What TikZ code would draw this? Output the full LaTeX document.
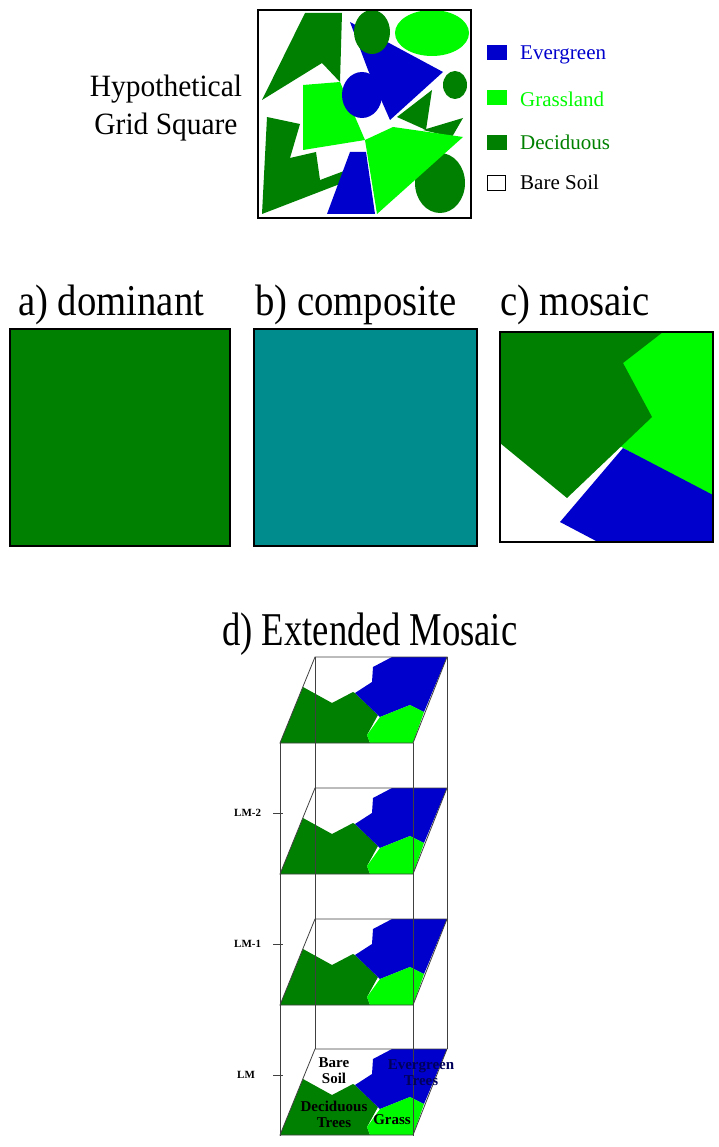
\documentclass[tikz,border=0pt]{standalone}
\usepackage{graphicx}
\usepackage{fontspec}
\setmainfont{Liberation Serif}
\usetikzlibrary{positioning}
\definecolor{decid}{RGB}{0,128,0}
\definecolor{grass}{RGB}{0,250,0}
\definecolor{everg}{RGB}{0,0,205}
\definecolor{compo}{RGB}{0,140,140}
\definecolor{evtext}{RGB}{0,0,90}

\begin{document}
\begin{tikzpicture}[
    x=1pt, y=-1pt,
    frame/.style={draw=black, line width=1.6pt},
    edge/.style={draw=black!75, line width=0.8pt},
    key/.style={minimum width=20pt, minimum height=15pt, inner sep=0pt, anchor=north west},
    keytext/.style={anchor=base west, inner sep=0pt, font=\fontsize{21}{24}\selectfont},
    head/.style={anchor=base west, inner sep=0pt, font=\fontsize{44}{50}\selectfont},
    lmlabel/.style={anchor=west, inner sep=0pt, font=\bfseries\fontsize{11}{12}\selectfont},
    patchtext/.style={align=center, inner sep=0pt, font=\bfseries\fontsize{15}{16}\selectfont}
  ]
  \useasboundingbox (0,0) rectangle (719,1147);

  % hypothetical grid square
  \node[anchor=base, inner sep=0pt, font=\fontsize{31}{36}\selectfont] (hypo) at (166,97) {\scalebox{0.95}[1]{Hypothetical}};
  \node[anchor=base, inner sep=0pt, font=\fontsize{31}{36}\selectfont] (gridsq) at (166,135) {\scalebox{0.95}[1]{Grid Square}};
  \begin{scope}
    \clip (258,10) rectangle (471,218);
    \fill[decid] (305,13) -- (342,13) -- (340,82) -- (322,63) -- (262,100) -- cycle;
    \fill[decid] (397,117) -- (432,90) -- (426,130) -- cycle;
    \fill[decid] (423,130) -- (463,118) -- (452,137) -- cycle;
    \fill[everg] (350,22) -- (443,72) -- (390,120) -- (368,70) -- cycle;
    \fill[decid] (372,32) ellipse [x radius=18, y radius=22];
    \fill[grass] (432,33) ellipse [x radius=37, y radius=23];
    \fill[decid] (455,85) ellipse [x radius=12, y radius=14];
    \fill[grass] (303,85) -- (340,82) -- (365,140) -- (303,150) -- cycle;
    \fill[everg] (362,95) ellipse [x radius=20, y radius=23];
    \fill[decid] (267,117) -- (300,124) -- (290,158) -- (316,152) -- (320,180) -- (352,168) -- (345,182) -- (262,214) -- cycle;
    \fill[everg] (350,152) -- (366,152) -- (375,214) -- (327,214) -- cycle;
    \fill[decid] (440,183) ellipse [x radius=25, y radius=30];
    \fill[grass] (365,140) -- (393,127) -- (463,137) -- (377,214) -- cycle;
  \end{scope}
  \draw[frame] (258,10) rectangle (471,218);

  % legend
  \node[key, fill=everg] (kev) at (487,45) {};
  \node[key, fill=grass] (kgr) at (487,90) {};
  \node[key, fill=decid] (kde) at (487,135) {};
  \node[key, draw=black, line width=0.8pt, minimum width=18pt] (kbs) at (487,175) {};
  \node[keytext, text=everg] (tev) at (520,60) {Evergreen};
  \node[keytext, text=grass] (tgr) at (520,107) {Grassland};
  \node[keytext, text=decid] (tde) at (520,150) {Deciduous};
  \node[keytext] (tbs) at (520,190) {Bare Soil};

  % a) b) c)
  \node[head] (dom) at (18,315) {\scalebox{0.88}[1]{a) dominant}};
  \node[head] (comp) at (255,315) {\scalebox{0.88}[1]{b) composite}};
  \node[head] (mos) at (500,315) {\scalebox{0.88}[1]{c) mosaic}};
  \draw[frame, fill=decid] (10,329) rectangle (230,546);
  \draw[frame, fill=compo] (254,329) rectangle (477,546);
  \begin{scope}
    \clip (500,332) rectangle (713,542);
    \fill[grass] (600,332) -- (713,332) -- (713,500) -- (620,446) -- (645,415) -- (600,370) -- cycle;
    \fill[decid] (500,332) -- (663,332) -- (623,363) -- (652,417) -- (567,498) -- (500,443) -- cycle;
    \fill[everg] (623,448) -- (713,495) -- (713,542) -- (598,542) -- (560,522) -- cycle;
  \end{scope}
  \draw[frame] (500,332) rectangle (713,542);

  % d) extended mosaic
  \node[head, font=\fontsize{47}{50}\selectfont] (ext) at (222,645) {\scalebox{0.78}[1]{d) Extended Mosaic}};
  \foreach \b in {657,788,919,1049}{
    \fill[white] (315,\b) -- (447,\b) -- (413,\b+86) -- (280,\b+86) -- cycle;
    \fill[decid] (303,\b+30) -- (332,\b+46) -- (353,\b+35) -- (355,\b+36) -- (378,\b+58) -- (367,\b+78) -- (370,\b+86) -- (280,\b+86) -- cycle;
    \fill[everg] (392,\b) -- (447,\b) -- (424,\b+55) -- (410,\b+48) -- (380,\b+60) -- (355,\b+36) -- (372,\b+25) -- (373,\b+10) -- cycle;
    \fill[grass] (380,\b+60) -- (410,\b+48) -- (424,\b+55) -- (413,\b+86) -- (370,\b+86) -- (367,\b+78) -- cycle;
    \draw[edge] (315,\b) -- (447,\b) -- (413,\b+86) -- (280,\b+86) -- cycle;
  }
  \draw[edge] (315,657) -- (315,1049);
  \draw[edge] (447,657) -- (447,1049);
  \draw[edge] (280,743) -- (280,1136);
  \draw[edge] (413,743) -- (413,1136);

  \node[lmlabel] (lm2) at (234,813) {LM-2};
  \node[lmlabel] (lm1) at (234,944) {LM-1};
  \node[lmlabel] (lm0) at (237,1075) {LM};
  \draw[edge] (273,813) -- (283,813);
  \draw[edge] (273,944) -- (283,944);
  \draw[edge] (273,1075) -- (283,1075);

  \node[patchtext] (bare) at (334,1071) {Bare\\Soil};
  \node[patchtext, text=evtext] (evtrees) at (421,1073) {Evergreen\\Trees};
  \node[patchtext] (dectrees) at (334,1114) {Deciduous\\Trees};
  \node[patchtext] (grasslbl) at (392,1120) {Grass};
\end{tikzpicture}
\end{document}
